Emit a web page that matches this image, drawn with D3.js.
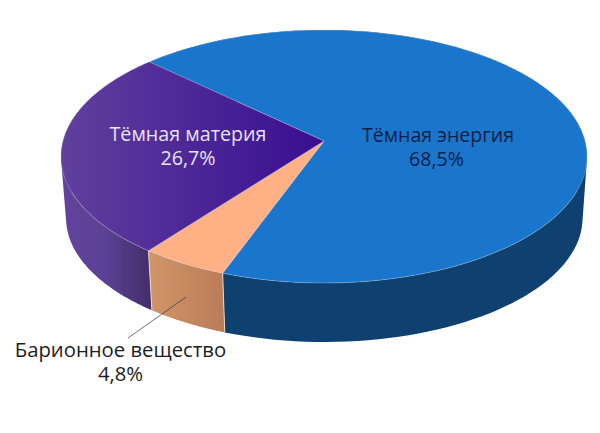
<!DOCTYPE html>
<html><head><meta charset="utf-8">
<style>html,body{margin:0;padding:0;background:#fff}svg{display:block}text{font-family:"Open Sans",sans-serif;text-anchor:middle}</style>
<script src="https://cdn.jsdelivr.net/npm/d3@7"></script></head>
<body><script>
const categories = ["Тёмная энергия", "Барионное вещество", "Тёмная материя"];
const values = [68.5, 4.8, 26.7];
const valueLabels = ["68,5%", "4,8%", "26,7%"];

const W = 600, H = 433;
const svg = d3.select("body").append("svg").attr("width", W).attr("height", H);
const defs = svg.append("defs");
function grad(id, x1, x2, stops) {
  const g = defs.append("linearGradient").attr("id", id).attr("gradientUnits", "userSpaceOnUse")
    .attr("x1", x1).attr("x2", x2).attr("y1", 0).attr("y2", 0);
  stops.forEach(s => g.append("stop").attr("offset", s[0]).attr("stop-color", s[1]));
}
grad("dmTop", 61, 324, [[0, "#60409d"], [1, "#390d92"]]);
grad("dmSide", 61, 150, [[0, "#62439f"], [0.5, "#5b4193"], [1, "#432e6a"]]);
grad("baSide", 149, 225, [[0, "#d09669"], [1, "#ba7c58"]]);

const topFill = ["#1a75cc", "#ffb085", "url(#dmTop)"];
const sideFill = ["#0e4170", "url(#baSide)", "url(#dmSide)"];
const textFill = ["#0c1f48", "#1c1c24", "#e6e4ee"];

// perspective projection of the unit disc
const k = 0.1225;
function projector(cx, cy, rx, ry) {
  return (a) => {
    const x = Math.sin(a), y = -Math.cos(a), w = 1 - k * y;
    return [cx + rx * x / w, cy + ry * y / w];
  };
}
const apex = [324, 141];
const topFace = projector(apex[0], apex[1], 261, 124.6);
const bottomFace = projector(324.3, 202.8, 261 * 0.982, 124.6 * 0.98);

const startAngle = 313.5 * Math.PI / 180;
const arcs = d3.pie().sort(null).startAngle(startAngle).endAngle(startAngle + 2 * Math.PI)(values);
const line = d3.line();
const samples = (a) => d3.range(0, 121).map(i => a.startAngle + (a.endAngle - a.startAngle) * i / 120);

// side walls: swept quads, all wound the same way so that their union fills the silhouette
[0, 2, 1].forEach(i => {
  const s = samples(arcs[i]);
  const d = d3.pairs(s).map(([a, b]) => {
    const q = [topFace(a), topFace(b), bottomFace(b), bottomFace(a)];
    if (d3.polygonArea(q) < 0) q.reverse();
    return line(q) + "Z";
  }).join("");
  svg.append("path").attr("d", d).attr("fill", sideFill[i]);
});
// light seams on visible wall edges
[arcs[1].startAngle, arcs[1].endAngle].forEach(a => {
  svg.append("path").attr("d", line([topFace(a), bottomFace(a)]))
    .attr("stroke", "#f3dccb").attr("stroke-width", 0.9).attr("fill", "none");
});
// top face
[0, 1, 2].forEach(i => {
  const s = samples(arcs[i]);
  svg.append("path")
    .attr("d", line([apex].concat(s.map(topFace))) + "Z")
    .attr("fill", topFill[i])
    .attr("stroke", "#c9d6e6").attr("stroke-opacity", 0.55).attr("stroke-width", 0.6);
});

// leader
svg.append("path").attr("d", line([[186, 297], [128, 338]]))
  .attr("stroke", "#333").attr("stroke-width", 0.7).attr("fill", "none");

// labels
const labelX = [438, 120.5, 188], labelY = [142, 357, 141], labelGap = [23.5, 24, 24], labelSize = [19.6, 20.3, 19.7];
categories.forEach((c, i) => {
  const t = svg.append("text").attr("font-size", labelSize[i]).attr("fill", textFill[i]);
  t.append("tspan").attr("x", labelX[i]).attr("y", labelY[i]).text(c);
  t.append("tspan").attr("x", labelX[i] - (i === 0 ? 1.5 : 0)).attr("y", labelY[i] + labelGap[i]).text(valueLabels[i]);
});
</script></body></html>
